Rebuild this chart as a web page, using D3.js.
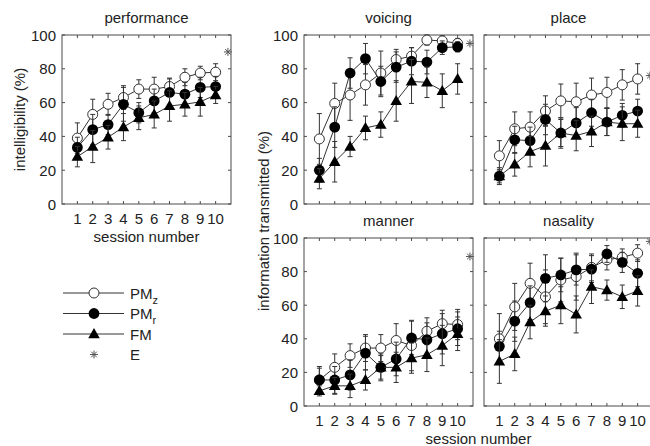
<!DOCTYPE html>
<html>
<head>
<meta charset="utf-8">
<script src="https://cdn.jsdelivr.net/npm/d3@7"></script>
<style>
  body { margin: 0; background: #fff; }
  svg { display: block; font-family: "Liberation Sans", Arial, sans-serif; }
</style>
</head>
<body>
<div id="chart"></div>
<script>
// session numbers on every x axis
const sessions = [1, 2, 3, 4, 5, 6, 7, 8, 9, 10];
const yTicks = [0, 20, 40, 60, 80, 100];

// performance (intelligibility %)
const perfPMz = [39, 53, 59, 63, 68, 68, 69.5, 75, 77.5, 78];
const perfPMzErr = [9, 9, 6.5, 7, 5.5, 7, 5, 5, 4, 5];
const perfPMr = [33.5, 44, 47, 59, 54, 61, 66, 65, 69, 69.5];
const perfPMrErr = [6, 9, 6, 10, 6, 7, 8, 7, 6, 6];
const perfFM = [28, 34, 39.5, 45.5, 51, 53, 58, 59, 60.5, 64.5];
const perfFMErr = [6, 9.5, 7, 8, 7, 8, 9, 7, 8.5, 5];
const perfE = 90;

// voicing
const voicPMz = [38.5, 59.5, 64.5, 70.5, 77.5, 85.5, 87.5, 97, 96.5, 95];
const voicPMzErr = [15, 12, 15, 12, 13, 6, 5, 3, 3, 3];
const voicPMr = [20, 45.5, 77.5, 86, 72.5, 81, 84.5, 84, 92.5, 93];
const voicPMrErr = [7, 12, 9, 9, 9, 9, 8, 7, 4, 3];
const voicFM = [15, 25, 34, 45, 47, 61, 72.5, 72, 67, 74];
const voicFMErr = [6, 12, 6, 7, 7.5, 12, 13, 9, 10, 9];
const voicE = 95;

// place
const placPMz = [28.5, 44.5, 45.5, 55, 61, 60.5, 64.5, 66, 70.5, 74];
const placPMzErr = [9, 10, 9, 9, 10, 11, 10, 9, 9, 9];
const placPMr = [16.5, 38, 37.5, 50, 42, 48, 54, 48.5, 52.5, 55];
const placPMrErr = [4, 8, 8, 9, 9, 9, 8, 8, 7, 7];
const placFM = [16.5, 23.5, 31, 34.5, 42, 40.5, 43, 48.5, 47.5, 47.5];
const placFMErr = [5, 7, 9, 12, 8, 9, 9, 8, 10, 8];
const placE = 76;

// manner
const mannPMz = [15.5, 23, 30, 34.5, 34.5, 39, 36, 44.5, 49, 48.5];
const mannPMzErr = [8, 8, 7, 8, 8, 10, 15, 8, 8, 9];
const mannPMr = [15.5, 15.5, 18.5, 31.5, 23, 28, 40.5, 39.5, 43, 46];
const mannPMrErr = [7, 8, 9, 10, 8, 10, 10, 10, 12, 10];
const mannFM = [9, 12, 12, 15.5, 23, 23, 28.5, 30.5, 36, 43];
const mannFMErr = [3, 5, 7, 6, 7, 9, 9, 10, 12, 10];
const mannE = 89;

// nasality
const nasaPMz = [40, 59, 73, 65, 75, 77, 82.5, 87, 88.5, 91];
const nasaPMzErr = [15, 14, 12, 16, 13, 14, 8, 6, 5, 5];
const nasaPMr = [35.5, 50.5, 61.5, 76, 78, 81, 81.5, 90.5, 85.5, 79];
const nasaPMrErr = [9, 12, 10, 14, 10, 9, 8, 5, 6, 8];
const nasaFM = [26.5, 31, 50, 56.5, 60, 54.5, 71, 69, 65, 68.5];
const nasaFMErr = [13, 10, 10, 9, 11, 11, 10, 6, 7, 9];
const nasaE = 98;

const W = 650, H = 446;
const pw = 169;
const ink = '#333';
const axisCol = '#4a4a4a';

const svg = d3.select('#chart').append('svg')
  .attr('width', W).attr('height', H);

// panel layout: left/top of each axes box
const panels = [
  { title: 'performance', x: 62, y: 35, h: 169, xLab: true, yLab: true,
    series: [[perfPMz, perfPMzErr], [perfPMr, perfPMrErr], [perfFM, perfFMErr]], e: perfE },
  { title: 'voicing', x: 304, y: 35, h: 169, xLab: false, yLab: true,
    series: [[voicPMz, voicPMzErr], [voicPMr, voicPMrErr], [voicFM, voicFMErr]], e: voicE },
  { title: 'place', x: 484, y: 35, h: 169, xLab: false, yLab: false,
    series: [[placPMz, placPMzErr], [placPMr, placPMrErr], [placFM, placFMErr]], e: placE },
  { title: 'manner', x: 304, y: 238, h: 168, xLab: true, yLab: true,
    series: [[mannPMz, mannPMzErr], [mannPMr, mannPMrErr], [mannFM, mannFMErr]], e: mannE },
  { title: 'nasality', x: 484, y: 238, h: 168, xLab: true, yLab: false,
    series: [[nasaPMz, nasaPMzErr], [nasaPMr, nasaPMrErr], [nasaFM, nasaFMErr]], e: nasaE }
];

const triangle = d3.symbol().type(d3.symbolTriangle).size(58);

// matlab style '*' : plus and cross on top of each other
function starPath(r) {
  const d = r * Math.SQRT1_2;
  return `M${-r},0L${r},0M0,${-r}L0,${r}M${-d},${-d}L${d},${d}M${-d},${d}L${d},${-d}`;
}

function drawMarker(g, kind, cx, cy) {
  if (kind === 0) {
    g.append('circle').attr('cx', cx).attr('cy', cy).attr('r', 5)
      .attr('fill', '#fff').attr('stroke', ink).attr('stroke-width', 1);
  } else if (kind === 1) {
    g.append('circle').attr('cx', cx).attr('cy', cy).attr('r', 5.4)
      .attr('fill', '#000');
  } else if (kind === 2) {
    g.append('path').attr('d', triangle).attr('transform', `translate(${cx},${cy + 0.8})`)
      .attr('fill', '#000');
  } else {
    g.append('path').attr('d', starPath(4)).attr('transform', `translate(${cx},${cy})`)
      .attr('fill', 'none').attr('stroke', '#555').attr('stroke-width', 1);
  }
}

panels.forEach(p => {
  const g = svg.append('g').attr('transform', `translate(${p.x},${p.y})`);
  const x = d3.scaleLinear().domain([0, 11]).range([0, pw]);
  const y = d3.scaleLinear().domain([0, 100]).range([p.h, 0]);

  // box
  g.append('rect').attr('width', pw).attr('height', p.h)
    .attr('fill', 'none').attr('stroke', axisCol).attr('stroke-width', 1);

  // inward ticks on all four sides
  const tk = 3;
  sessions.forEach(s => {
    g.append('line').attr('x1', x(s)).attr('x2', x(s)).attr('y1', p.h).attr('y2', p.h - tk)
      .attr('stroke', axisCol);
    g.append('line').attr('x1', x(s)).attr('x2', x(s)).attr('y1', 0).attr('y2', tk)
      .attr('stroke', axisCol);
  });
  yTicks.forEach(t => {
    g.append('line').attr('x1', 0).attr('x2', tk).attr('y1', y(t)).attr('y2', y(t))
      .attr('stroke', axisCol);
    g.append('line').attr('x1', pw).attr('x2', pw - tk).attr('y1', y(t)).attr('y2', y(t))
      .attr('stroke', axisCol);
  });

  if (p.xLab) {
    g.selectAll('.xl').data(sessions).enter().append('text')
      .attr('x', d => x(d)).attr('y', p.h + 20)
      .attr('text-anchor', 'middle').attr('font-size', 15).attr('fill', '#222')
      .text(d => d);
  }
  if (p.yLab) {
    g.selectAll('.yl').data(yTicks).enter().append('text')
      .attr('x', -6).attr('y', d => y(d) + 5.5)
      .attr('text-anchor', 'end').attr('font-size', 15).attr('fill', '#222')
      .text(d => d);
  }

  g.append('text').attr('x', pw / 2).attr('y', -12)
    .attr('text-anchor', 'middle').attr('font-size', 15).attr('fill', '#222')
    .text(p.title);

  const line = d3.line().x((d, i) => x(sessions[i])).y(d => y(d));

  p.series.forEach(([vals, errs], k) => {
    const sg = g.append('g');
    // error bars
    vals.forEach((v, i) => {
      const cx = x(sessions[i]);
      const lo = y(v - errs[i]), hi = y(Math.min(100, v + errs[i]));
      sg.append('line').attr('x1', cx).attr('x2', cx).attr('y1', lo).attr('y2', hi)
        .attr('stroke', ink).attr('stroke-width', 1);
      [lo, hi].forEach(yy => sg.append('line')
        .attr('x1', cx - 2.5).attr('x2', cx + 2.5).attr('y1', yy).attr('y2', yy)
        .attr('stroke', ink).attr('stroke-width', 1));
    });
    sg.append('path').attr('d', line(vals))
      .attr('fill', 'none').attr('stroke', ink).attr('stroke-width', 1);
    vals.forEach((v, i) => drawMarker(sg, k, x(sessions[i]), y(v)));
  });

  // expert score
  drawMarker(g, 3, x(10.8), y(p.e));
});

// axis labels
svg.append('text').attr('transform', 'translate(25,119.5) rotate(-90)')
  .attr('text-anchor', 'middle').attr('font-size', 15).attr('fill', '#222')
  .text('intelligibility (%)');
svg.append('text').attr('transform', 'translate(269,221) rotate(-90)')
  .attr('text-anchor', 'middle').attr('font-size', 15).attr('fill', '#222')
  .text('information transmitted (%)');
svg.append('text').attr('x', 62 + pw / 2).attr('y', 242)
  .attr('text-anchor', 'middle').attr('font-size', 15).attr('fill', '#222')
  .text('session number');
svg.append('text').attr('x', (304 + 484 + pw) / 2).attr('y', 444)
  .attr('text-anchor', 'middle').attr('font-size', 15).attr('fill', '#222')
  .text('session number');

// legend
const legendNames = ['PM', 'PM', 'FM', 'E'];
const legendSubs = ['z', 'r', '', ''];
const lg = svg.append('g');
legendNames.forEach((name, k) => {
  const ly = 293 + k * 20.5;
  if (k < 3) {
    lg.append('line').attr('x1', 63).attr('x2', 124).attr('y1', ly).attr('y2', ly)
      .attr('stroke', ink).attr('stroke-width', 1);
  }
  drawMarker(lg, k, 94, ly);
  const t = lg.append('text').attr('x', 130).attr('y', ly + 5.5)
    .attr('font-size', 15).attr('fill', '#222').text(name);
  if (legendSubs[k]) {
    t.append('tspan').attr('font-size', 11).attr('dy', 5).text(legendSubs[k]);
  }
});
</script>
</body>
</html>
